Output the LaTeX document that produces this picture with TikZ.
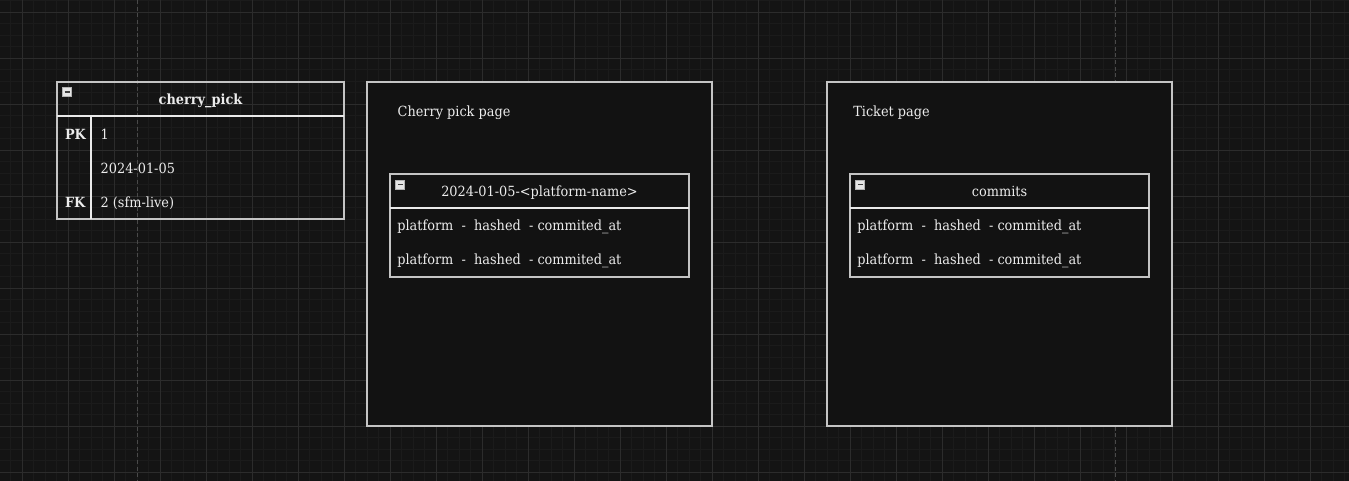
\documentclass[tikz,border=0pt]{standalone}
\usepackage{fontspec}
\setmainfont[FakeStretch=0.92]{DejaVu Serif}
\definecolor{bg}{HTML}{141414}
\definecolor{gridminor}{HTML}{1B1B1B}
\definecolor{gridmajor}{HTML}{2C2C2C}
\definecolor{pagebrk}{HTML}{4A4A4A}
\definecolor{boxfill}{HTML}{121212}
\definecolor{frame}{HTML}{C4C4C4}
\definecolor{divline}{HTML}{EAEAEA}
\definecolor{txt}{HTML}{ECECEC}
\begin{document}
\begin{tikzpicture}[x=0.75pt,y=-0.75pt,
  every node/.style={inner sep=0pt, outer sep=0pt, text=txt, font=\fontsize{10.5}{12}\selectfont},
  minor/.style={draw=gridminor, line width=0.75pt},
  major/.style={draw=gridmajor, line width=0.75pt},
  pagebreak/.style={draw=pagebrk, line width=0.75pt, dash pattern=on 3pt off 2pt},
  container/.style={draw=frame, fill=boxfill, line width=1pt},
  tableframe/.style={draw=frame, line width=1pt},
  divider/.style={draw=divline, line width=0.9pt},
  rowtext/.style={anchor=base west},
  titletext/.style={anchor=base},
  keytext/.style={anchor=base west, font=\fontsize{10.5}{12}\selectfont\bfseries}]
\fill[bg] (0,0) rectangle (1349,481);
\useasboundingbox (0,0) rectangle (1349,481);
% grid
\foreach \i in {0,...,116} \draw[minor] ({10.8+11.5*\i},0) -- ({10.8+11.5*\i},481);
\foreach \i in {0,...,41} \draw[minor] (0,{0.8+11.5*\i}) -- (1349,{0.8+11.5*\i});
\foreach \i in {0,...,28} \draw[major] ({22.3+46*\i},0) -- ({22.3+46*\i},481);
\foreach \i in {0,...,10} \draw[major] (0,{12.3+46*\i}) -- (1349,{12.3+46*\i});
% page breaks
\draw[pagebreak] (137.3,0) -- (137.3,481);
\draw[pagebreak] (1115,0) -- (1115,481);
% minus icon
\newcommand\minusicon[2]{%
  \draw[draw=gray!60, fill=gray!20, line width=0.6pt] (#1,#2) rectangle ({#1+9},{#2+9});
  \draw[draw=black!75, line width=1.4pt] ({#1+2},{#2+4.5}) -- ({#1+7},{#2+4.5});}
% cherry_pick table
\draw[tableframe] (57,82) rectangle (344,219);
\draw[divider] (57,116) -- (344,116);
\draw[divider] (91,116) -- (91,219);
\minusicon{62.5}{87.7}
\node[titletext, font=\fontsize{10.5}{12}\selectfont\bfseries] (cptitle) at (200.5,104.3) {cherry\_pick};
\node[keytext] (cppk) at (65,139.3) {PK};
\node[rowtext] (cpr1) at (100.7,139.3) {1};
\node[rowtext] (cpr2) at (100.7,173.3) {2024-01-05};
\node[keytext] (cpfk) at (65,207.7) {FK};
\node[rowtext] (cpr3) at (100.7,207.7) {2 (sfm-live)};
% container 1
\draw[container] (367,82) rectangle (712,426);
\node[rowtext] (c1label) at (397.7,116.7) {Cherry pick page};
\draw[tableframe] (390,174) rectangle (689,277);
\draw[divider] (390,208) -- (689,208);
\minusicon{395.8}{180}
\node[titletext] (t1title) at (539.5,196.3) {2024-01-05-<platform-name>};
\node[rowtext] (t1r1) at (397.3,230.7) {platform~~-~~hashed~~-~commited\_at};
\node[rowtext] (t1r2) at (397.3,264.7) {platform~~-~~hashed~~-~commited\_at};
% container 2
\draw[container] (827,82) rectangle (1172,426);
\node[rowtext] (c2label) at (853.3,116.3) {Ticket page};
\draw[tableframe] (850,174) rectangle (1149,277);
\draw[divider] (850,208) -- (1149,208);
\minusicon{855.8}{180}
\node[titletext] (t2title) at (999.5,196.3) {commits};
\node[rowtext] (t2r1) at (857.3,230.7) {platform~~-~~hashed~~-~commited\_at};
\node[rowtext] (t2r2) at (857.3,264.7) {platform~~-~~hashed~~-~commited\_at};
\end{tikzpicture}
\end{document}
